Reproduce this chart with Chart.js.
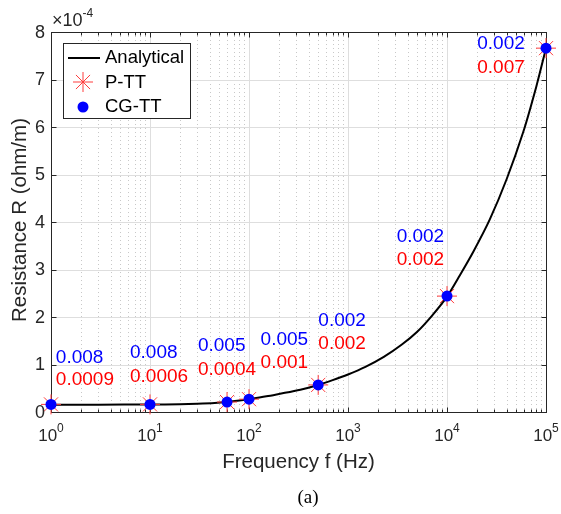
<!DOCTYPE html>
<html><head><meta charset="utf-8">
<script src="https://cdn.jsdelivr.net/npm/chart.js@4.4.0/dist/chart.umd.min.js"></script>
<style>html,body{margin:0;padding:0;background:#fff}canvas{display:block}</style>
</head><body>
<canvas id="c" width="561" height="514"></canvas>
<script>
// ---- data (resistance values in units of 1e-4 ohm/m) ----
const SCALE = 1e-4;
const curveFreq = [1, 3, 10, 20, 30, 45, 60, 80, 100, 150, 200, 330, 500, 700, 1000, 1500, 2300, 3500, 5000, 7000, 10000, 13500, 18500, 27000, 40000, 59000, 80000, 100000];
const curveR    = [0.155, 0.155, 0.157, 0.165, 0.175, 0.19, 0.21, 0.24, 0.27, 0.33, 0.38, 0.47, 0.57, 0.67, 0.79, 0.95, 1.16, 1.42, 1.69, 2.02, 2.43, 2.88, 3.38, 4.05, 4.9, 5.9, 6.86, 7.66];
const pointFreq = [1, 10, 60, 100, 500, 10000, 100000];
const pttR      = [0.16, 0.16, 0.21, 0.27, 0.57, 2.44, 7.66];
const cgttR     = [0.16, 0.16, 0.21, 0.27, 0.57, 2.44, 7.66];
const cgttErr   = ['0.008', '0.008', '0.005', '0.005', '0.002', '0.002', '0.002'];
const pttErr    = ['0.0009', '0.0006', '0.0004', '0.001', '0.002', '0.002', '0.007'];
// annotation anchors (data coordinates: frequency of text left edge, R of text centre)
const labelFreq   = [1.12, 6.28, 30.5, 131, 502, 3100, 20200];
const blueLabelR  = [1.14, 1.25, 1.39, 1.53, 1.92, 3.69, 7.75];
const redLabelR   = [0.674, 0.743, 0.884, 1.04, 1.43, 3.21, 7.24];
const yTicks = [0, 1, 2, 3, 4, 5, 6, 7, 8];
const yTickLabels = ['0', '1', '2', '3', '4', '5', '6', '7', '8'];
const xTicks = [1, 10, 100, 1000, 10000, 100000];
const xTickExp = ['0', '1', '2', '3', '4', '5'];

const AX = '#262626';
const STAR = 'rgb(255,60,60)';
const FONT = '"Liberation Sans", Arial, Helvetica, sans-serif';

const framePlugin = {
  id: 'frame',
  beforeDatasetsDraw(chart) {
    const ctx = chart.ctx, a = chart.chartArea;
    const xs = chart.scales.x, ys = chart.scales.y;
    ctx.save();
    // minor x grid (dotted)
    ctx.strokeStyle = '#c8c8c8'; ctx.lineWidth = 1; ctx.setLineDash([1, 3]);
    for (let d = 0; d < 5; d++) {
      for (let m = 2; m <= 9; m++) {
        const px = Math.round(xs.getPixelForValue(m * Math.pow(10, d))) + 0.5;
        ctx.beginPath(); ctx.moveTo(px, a.top); ctx.lineTo(px, a.bottom); ctx.stroke();
      }
    }
    ctx.setLineDash([]);
    ctx.strokeStyle = '#dedede';
    xTicks.forEach(v => {
      const px = Math.round(xs.getPixelForValue(v)) + 0.5;
      ctx.beginPath(); ctx.moveTo(px, a.top); ctx.lineTo(px, a.bottom); ctx.stroke();
    });
    yTicks.forEach(v => {
      const py = Math.round(ys.getPixelForValue(v * SCALE)) + 0.5;
      ctx.beginPath(); ctx.moveTo(a.left, py); ctx.lineTo(a.right, py); ctx.stroke();
    });
    // box
    ctx.strokeStyle = AX; ctx.lineWidth = 1;
    const L = Math.round(a.left) + 0.5, R = Math.round(a.right) + 0.5, T = Math.round(a.top) + 0.5, B = Math.round(a.bottom) + 0.5;
    ctx.strokeRect(L, T, R - L, B - T);
    // ticks
    ctx.beginPath();
    for (let d = 0; d < 5; d++) {
      for (let m = 2; m <= 9; m++) {
        const px = Math.round(xs.getPixelForValue(m * Math.pow(10, d))) + 0.5;
        ctx.moveTo(px, B); ctx.lineTo(px, B - 3);
        ctx.moveTo(px, T); ctx.lineTo(px, T + 3);
      }
    }
    xTicks.forEach(v => {
      const px = Math.round(xs.getPixelForValue(v)) + 0.5;
      ctx.moveTo(px, B); ctx.lineTo(px, B - 5);
      ctx.moveTo(px, T); ctx.lineTo(px, T + 5);
    });
    yTicks.forEach(v => {
      const py = Math.round(ys.getPixelForValue(v * SCALE)) + 0.5;
      ctx.moveTo(L, py); ctx.lineTo(L + 5, py);
      ctx.moveTo(R, py); ctx.lineTo(R - 5, py);
    });
    ctx.stroke();
    ctx.restore();
  },
  afterDraw(chart) {
    const ctx = chart.ctx, a = chart.chartArea;
    const xs = chart.scales.x, ys = chart.scales.y;
    ctx.save();
    ctx.fillStyle = AX;
    // y tick labels
    ctx.font = '18px ' + FONT; ctx.textAlign = 'right'; ctx.textBaseline = 'middle';
    yTicks.forEach((v, i) => {
      ctx.fillText(yTickLabels[i], a.left - 6, ys.getPixelForValue(v * SCALE) + 1);
    });
    // x tick labels 10^n
    xTicks.forEach((v, i) => {
      const px = xs.getPixelForValue(v);
      ctx.font = '17px ' + FONT;
      const wb = ctx.measureText('10').width;
      ctx.font = '12px ' + FONT;
      const we = ctx.measureText(xTickExp[i]).width;
      const x0 = px - (wb + we) / 2;
      ctx.textAlign = 'left';
      ctx.font = '17px ' + FONT; ctx.fillText('10', x0, a.bottom + 24);
      ctx.font = '12px ' + FONT; ctx.fillText(xTickExp[i], x0 + wb, a.bottom + 17);
    });
    // exponent label
    ctx.textAlign = 'left';
    ctx.font = '18px ' + FONT; ctx.fillText('\u00d710', a.left + 1, a.top - 11);
    const wx = ctx.measureText('\u00d710').width;
    ctx.font = '12px ' + FONT; ctx.fillText('-4', a.left + 1 + wx, a.top - 18);
    // axis titles
    ctx.font = '20.5px ' + FONT; ctx.textAlign = 'center';
    ctx.fillText('Frequency f (Hz)', (a.left + a.right) / 2, a.bottom + 50);
    ctx.save();
    ctx.translate(20, (a.top + a.bottom) / 2 - 2);
    ctx.rotate(-Math.PI / 2);
    ctx.fillText('Resistance R (ohm/m)', 0, 0);
    ctx.restore();
    // caption
    ctx.fillStyle = '#000';
    ctx.font = '19px "Liberation Serif", "Times New Roman", serif';
    ctx.fillText('(a)', 308, 498);
    // annotations
    ctx.font = '19px ' + FONT; ctx.textAlign = 'left'; ctx.textBaseline = 'middle';
    pointFreq.forEach((f, i) => {
      const px = xs.getPixelForValue(labelFreq[i]);
      ctx.fillStyle = '#0000ff';
      ctx.fillText(cgttErr[i], px, ys.getPixelForValue(blueLabelR[i] * SCALE));
      ctx.fillStyle = '#ff0000';
      ctx.fillText(pttErr[i], px, ys.getPixelForValue(redLabelR[i] * SCALE));
    });
    // legend
    ctx.fillStyle = '#fff'; ctx.strokeStyle = AX; ctx.lineWidth = 1;
    ctx.fillRect(63.5, 43.5, 127, 75); ctx.strokeRect(63.5, 43.5, 127, 75);
    ctx.strokeStyle = '#000'; ctx.lineWidth = 2;
    ctx.beginPath(); ctx.moveTo(68, 58); ctx.lineTo(100, 58); ctx.stroke();
    ctx.strokeStyle = STAR; ctx.lineWidth = 1;
    ctx.beginPath();
    for (let k = 0; k < 4; k++) {
      const ang = k * Math.PI / 4;
      ctx.moveTo(83 - 10 * Math.cos(ang), 82 - 10 * Math.sin(ang));
      ctx.lineTo(83 + 10 * Math.cos(ang), 82 + 10 * Math.sin(ang));
    }
    ctx.stroke();
    ctx.fillStyle = '#0000ff';
    ctx.beginPath(); ctx.arc(83, 107, 5.5, 0, Math.PI * 2); ctx.fill();
    ctx.fillStyle = '#000';
    ctx.font = '18.5px ' + FONT; ctx.textAlign = 'left'; ctx.textBaseline = 'middle';
    ctx.fillText('Analytical', 105, 58);
    ctx.fillText('P-TT', 105, 83);
    ctx.fillText('CG-TT', 105, 107);
    ctx.restore();
  }
};

const toXY = (xs, ys) => xs.map((x, i) => ({x: x, y: ys[i] * SCALE}));

new Chart(document.getElementById('c'), {
  type: 'scatter',
  data: {
    datasets: [
      { label: 'CG-TT', data: toXY(pointFreq, cgttR), order: 1, clip: false,
        pointStyle: 'circle', pointRadius: 5.5, backgroundColor: '#0000ff', borderWidth: 0, showLine: false },
      { label: 'P-TT', data: toXY(pointFreq, pttR), order: 2, clip: false,
        pointStyle: 'star', pointRadius: 10, borderColor: STAR, borderWidth: 1, showLine: false },
      { label: 'Analytical', data: toXY(curveFreq, curveR), order: 3, clip: false,
        showLine: true, borderColor: '#000', borderWidth: 2, pointRadius: 0, tension: 0.3 }
    ]
  },
  options: {
    responsive: false, animation: false, devicePixelRatio: 1,
    layout: { padding: { left: 0, top: 32, right: 15, bottom: 0 } },
    plugins: { legend: { display: false }, tooltip: { enabled: false } },
    scales: {
      x: { type: 'logarithmic', min: 1, max: 100000,
           ticks: { display: false }, grid: { display: false }, border: { display: false },
           afterFit(s) { s.height = 102; } },
      y: { type: 'linear', min: 0, max: 8e-4,
           ticks: { display: false }, grid: { display: false }, border: { display: false },
           afterFit(s) { s.width = 51; } }
    }
  },
  plugins: [framePlugin]
});
</script>
</body></html>
